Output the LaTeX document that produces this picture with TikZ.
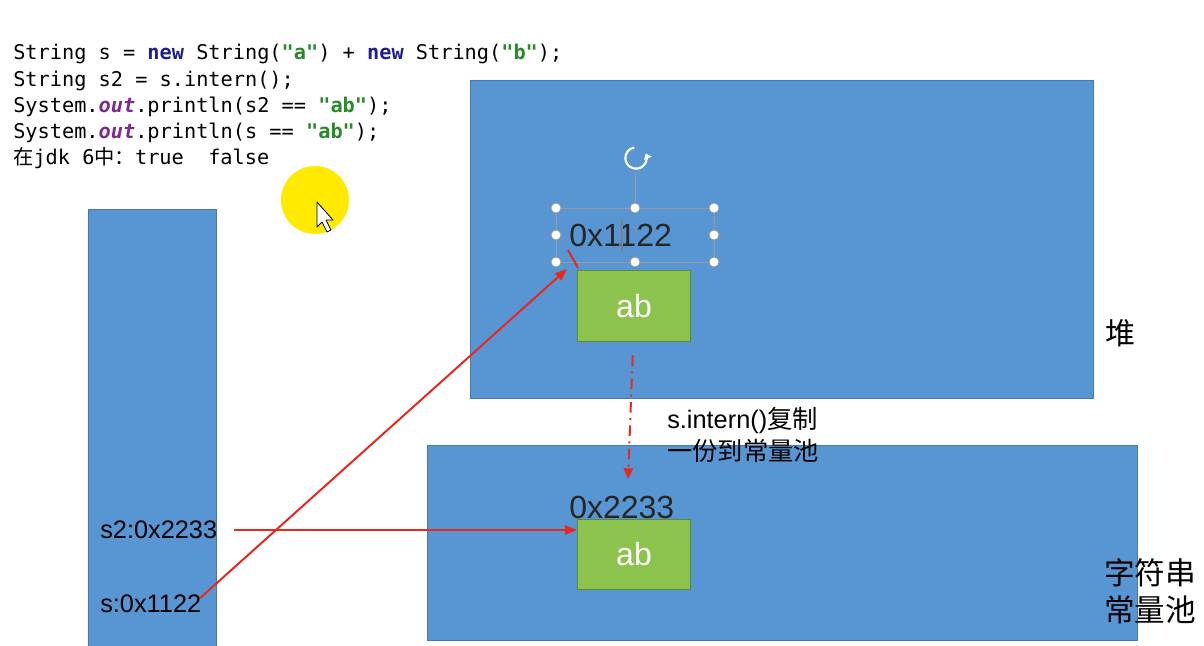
\documentclass[tikz,border=0pt]{standalone}
\usepackage{fontspec}
\setmainfont{Liberation Sans}
\setmonofont{DejaVu Sans Mono}
\newfontfamily\cjk{Noto Sans CJK SC}
\usetikzlibrary{arrows.meta}
\definecolor{boxblue}{HTML}{5796D3}
\definecolor{boxedge}{HTML}{4677AD}
\definecolor{abgreen}{HTML}{8BC34C}
\definecolor{abedge}{HTML}{5E8C31}
\definecolor{arrred}{HTML}{E8281E}
\definecolor{kw}{HTML}{1F1F8F}
\definecolor{strc}{HTML}{2A8A2A}
\definecolor{fld}{HTML}{7B2D8E}
\definecolor{handlec}{HTML}{9A9A9A}
\definecolor{hilite}{HTML}{FFEA00}
\tikzset{
 region/.style={draw=boxedge, fill=boxblue, line width=0.8pt, anchor=north west, inner sep=0},
 abbox/.style={draw=abedge, fill=abgreen, line width=0.8pt, text=white, anchor=north west, inner sep=0, font=\fontsize{24}{28}\selectfont},
 lbl/.style={font=\fontsize{19}{22}\selectfont, text=black, inner sep=0, anchor=west},
 addr/.style={font=\fontsize{24}{28}\selectfont, text=black!85, inner sep=0, anchor=west},
 codeline/.style={anchor=base west, inner sep=0, font=\ttfamily\fontsize{15.2}{18}\selectfont},
 ref/.style={draw=arrred, line width=1.5pt, -{Triangle[length=9pt,width=7pt]}},
 hnd/.style={circle, fill=white, draw=handlec, line width=0.6pt, minimum size=7.5pt, inner sep=0}
}
\newcommand{\kwd}[1]{{\bfseries\color{kw}#1}}
\newcommand{\strl}[1]{{\bfseries\color{strc}#1}}
\newcommand{\fldn}[1]{{\bfseries\itshape\color{fld}#1}}
\begin{document}
\begin{tikzpicture}[x=0.75pt,y=-0.75pt]
\useasboundingbox (0,0) rectangle (1204,646);
\fill[white] (0,0) rectangle (1204,646);

% code
\node[codeline] (c1) at (13,60) {String s = \kwd{new} String(\strl{"a"}) + \kwd{new} String(\strl{"b"});};
\node[codeline] (c2) at (13,86) {String s2 = s.intern();};
\node[codeline] (c3) at (13,112) {System.\fldn{out}.println(s2 == \strl{"ab"});};
\node[codeline] (c4) at (13,138) {System.\fldn{out}.println(s == \strl{"ab"});};
\node[codeline] (c5) at (13,164) {{\cjk 在}jdk 6{\cjk 中：}true~~false};

% regions
\node[region, minimum width=96pt, minimum height=331pt] (stack) at (88,209) {};
\node[region, minimum width=467.25pt, minimum height=238.5pt] (heap) at (470,80) {};
\node[region, minimum width=532.5pt, minimum height=146.25pt] (pool) at (427,445) {};

% highlight + cursor
\fill[hilite] (315,200) circle[radius=25.5pt];
\draw[black, fill=white, line width=0.6pt, line join=round] (317,202) -- (317,227) -- (322,222) -- (327,232) -- (331,230) -- (326,220) -- (333,220) -- cycle;

% green boxes
\node[abbox, minimum width=84.75pt, minimum height=53.25pt] (abHeap) at (577,270) {};
\node[text=white, font=\fontsize{24}{28}\selectfont, inner sep=0] (abHeapT) at (abHeap.center) {ab};
\node[abbox, minimum width=84.75pt, minimum height=52.5pt] (abPool) at (577,519) {};
\node[text=white, font=\fontsize{24}{28}\selectfont, inner sep=0] (abPoolT) at (abPool.center) {ab};

% selection frame
\draw[handlec, line width=0.6pt] (556,208) rectangle (714,262);
\draw[handlec, line width=0.6pt] (635,172) -- (635,208);
\draw[white, line width=1.6pt, -{Triangle[length=4pt,width=6pt]}] (636,158) ++(100:8pt) arc[start angle=100, end angle=385, radius=8pt];
\foreach \hx/\hy [count=\i] in {556/208,635/208,714/208,556/235,714/235,556/262,635/262,714/262}
  \node[hnd] (h\i) at (\hx,\hy) {};

% address labels
\node[addr] (addr1) at (569,235) {0x1122};
\draw[gray, line width=0.8pt] (622,219) -- (622,251);
\node[addr] (addr2) at (569,507) {0x2233};

% stack labels
\node[lbl] (s2) at (100,530) {s2:0x2233};
\node[lbl] (s) at (100,604) {s:0x1122};

% region names
\node[font=\cjk\fontsize{22.5}{26}\selectfont, anchor=west, inner sep=0] (heaplbl) at (1105,333) {堆};
\node[font=\cjk\fontsize{23}{27.75}\selectfont, anchor=north west, inner sep=0, align=left] (poollbl) at (1104,558) {字符串\\常量池};

% note
\node[font=\fontsize{19}{24}\selectfont, anchor=north west, inner sep=0, align=left] (note) at (667,407) {s.intern(){\cjk 复制}\\{\cjk 一份到常量池}};

% connectors
\coordinate (tip1) at (567,269);
\coordinate (dtip) at (628,479);
\draw[ref] ([xshift=12.5pt]s2.east) -- (s2.east -| abPool.west);
\draw[ref] ([xshift=-1pt,yshift=4.5pt]s.east) -- (tip1);
\draw[arrred, line width=1.5pt] (568,250) -- (578,268);
\draw[arrred, line width=1.5pt, dash pattern=on 8pt off 4pt on 1.5pt off 4pt, -{Triangle[length=8pt,width=7pt]}] ([yshift=-10pt,xshift=-1pt]abHeap.south) -- (dtip);
\end{tikzpicture}
\end{document}
